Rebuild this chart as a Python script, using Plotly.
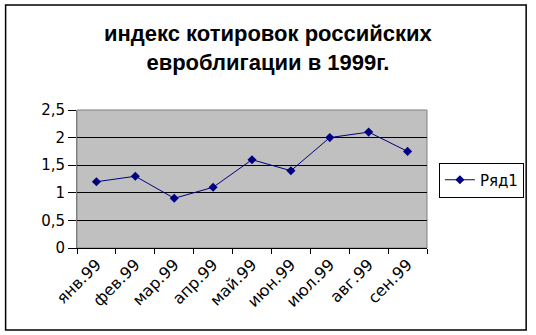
import plotly.graph_objects as go

categories = ["янв.99", "фев.99", "мар.99", "апр.99", "май.99", "июн.99", "июл.99", "авг.99", "сен.99"]
values = [1.2, 1.3, 0.9, 1.1, 1.6, 1.4, 2.0, 2.1, 1.75]
series_name = "Ряд1"
y_ticks = [0, 0.5, 1, 1.5, 2, 2.5]
title_text = "<b>индекс котировок российских<br>евроблигации в 1999г.</b>"

W, H = 536, 335
L, R, T, B = 77, 106, 110, 87
pw, ph = W - L - R, H - T - B

def px_x(x):
    return (x - L) / pw

def px_y(y):
    return (H - B - y) / ph

fig = go.Figure()
fig.add_trace(go.Scatter(
    x=categories, y=values, name=series_name, mode="lines+markers",
    line=dict(color="#000080", width=1),
    marker=dict(symbol="diamond", size=7, color="#000080"),
))

font = "Liberation Sans, Arial, sans-serif"
tickfont = "DejaVu Sans, Verdana, sans-serif"
fig.update_layout(
    width=W, height=H,
    margin=dict(l=L, r=R, t=T, b=B),
    paper_bgcolor="white", plot_bgcolor="#C0C0C0",
    separators=", ",
    showlegend=True,
    font=dict(family=tickfont, color="black", size=14),
    legend=dict(
        x=px_x(442), xanchor="left", y=px_y(180), yanchor="middle",
        bordercolor="black", borderwidth=1, bgcolor="white",
        font=dict(family=tickfont, size=15, color="black"),
    ),
    xaxis=dict(
        type="category", tickangle=-45, tickson="boundaries",
        ticks="outside", ticklen=5, tickcolor="black",
        showline=True, linecolor="black", showgrid=False,
        range=[-0.5, len(categories) - 0.5],
        tickfont=dict(family=tickfont, size=16), automargin=False,
    ),
    yaxis=dict(
        range=[0, 2.5], tickvals=y_ticks, ticks="outside", ticklen=8, tickcolor="black",
        showline=True, linecolor="#808080", gridcolor="black", gridwidth=1,
        zeroline=False, tickfont=dict(family=tickfont, size=15), automargin=False,
    ),
)
fig.add_annotation(
    text=title_text, xref="paper", yref="paper",
    x=px_x(270), y=px_y(47.5), xanchor="center", yanchor="middle",
    showarrow=False, font=dict(family=font, size=22, color="black"),
)
# plot area border
fig.add_shape(type="rect", xref="paper", yref="paper", x0=0, x1=1, y0=0, y1=1,
              line=dict(color="#808080", width=1), layer="below")
# outer chart border
fig.add_shape(type="rect", xref="paper", yref="paper",
              x0=px_x(5), x1=px_x(530), y0=px_y(330), y1=px_y(5),
              line=dict(color="black", width=1.5))
fig.write_html("out.html")
